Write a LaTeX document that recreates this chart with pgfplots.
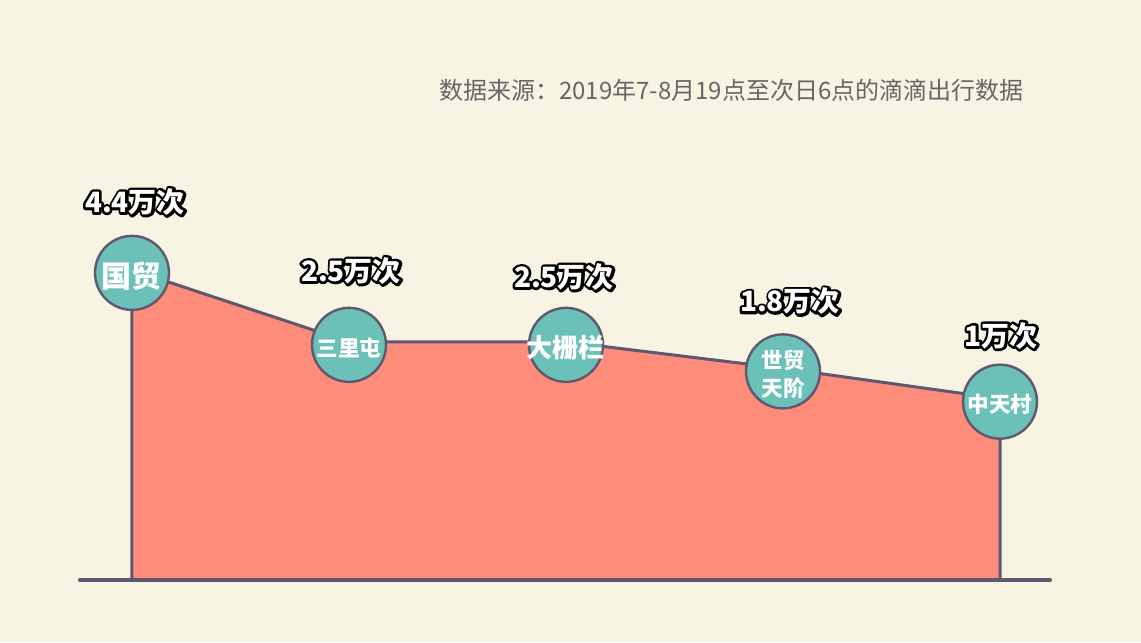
\documentclass[border=0pt]{standalone}
\usepackage{fontspec}
\setmainfont{Noto Sans CJK SC}
\usepackage{pgfplots}
\pgfplotsset{compat=1.18}

\definecolor{bg}{HTML}{F8F4E3}
\definecolor{area}{HTML}{FD8C7B}
\definecolor{dot}{HTML}{6BC1B7}
\definecolor{edge}{HTML}{5F586E}
\definecolor{src}{HTML}{666666}

% stroked (outline only) text, then white text on top of it
\newcommand\strk[1]{\special{pdf:literal direct q 2.6 w 1 j 0 G 1 Tr}#1\special{pdf:literal direct 0 Tr Q}}
% value label: white text with a black rim (x, y, dx, dy, text)
\newcommand\vlab[5]{%
  \node[vl,xshift={#3},yshift={#4}] at (axis cs:#1,#2) {\strk{#5}};
  \node[vl,text=white,xshift={#3},yshift={#4}] at (axis cs:#1,#2) {#5};
}

\begin{document}
\begin{tikzpicture}[
  vl/.style={text=black, inner sep=0pt, font=\bfseries\fontsize{14}{16}\selectfont},
]
\begin{axis}[
  width=434pt, height=155.1pt, scale only axis,
  xmin=0, xmax=4, ymin=-3.79, ymax=4.4,
  hide axis, clip=false,
]
% page background
\fill[bg] (axis cs:-0.6083,-5.427) rectangle (axis cs:4.6498,11.526);

% area under the line
\addplot[fill=area, draw=edge, line width=1.5pt, line join=round] coordinates {
  (0,-3.79) (0,4.4) (1,2.5) (2,2.5) (3,1.8) (4,1.0) (4,-3.79)
} -- cycle;

% base line
\draw[edge, line width=2pt, line cap=round] (axis cs:-0.2396,-3.79) -- (axis cs:4.2304,-3.79);

% station circles with their names
\addplot[only marks, mark=*, mark size=18.5pt,
  mark options={fill=dot, draw=edge, line width=1.2pt, yshift=-1.5pt},
  point meta=explicit symbolic,
  nodes near coords,
  every node near coord/.append style={anchor=center, yshift=-1.5pt,
    text=white, inner sep=0pt, align=center,
    font=\bfseries\fontsize{10.8}{14}\selectfont},
] coordinates {
  (0,4.4) [{\fontsize{15}{17}\selectfont 国贸}]
  (1,2.5) [{三里屯}]
  (2,2.5) [{\fontsize{13}{15}\selectfont 大栅栏}]
  (3,1.8) [{世贸\\天阶}]
  (4,1.0) [{中天村}]
};

\vlab{0}{4.4}{1.5pt}{34pt}{4.4万次}
\vlab{1}{2.5}{1pt}{35.5pt}{2.5万次}
\vlab{2}{2.5}{-1pt}{32.5pt}{2.5万次}
\vlab{3}{1.8}{3.5pt}{33.5pt}{1.8万次}
\vlab{4}{1.0}{0.5pt}{31.5pt}{1万次}

\node[anchor=east, text=src, inner sep=0pt, font=\fontsize{12}{14}\selectfont]
  at (axis cs:4.11,9.15) {数据来源：2019年7-8月19点至次日6点的滴滴出行数据};
\end{axis}
\end{tikzpicture}
\end{document}
